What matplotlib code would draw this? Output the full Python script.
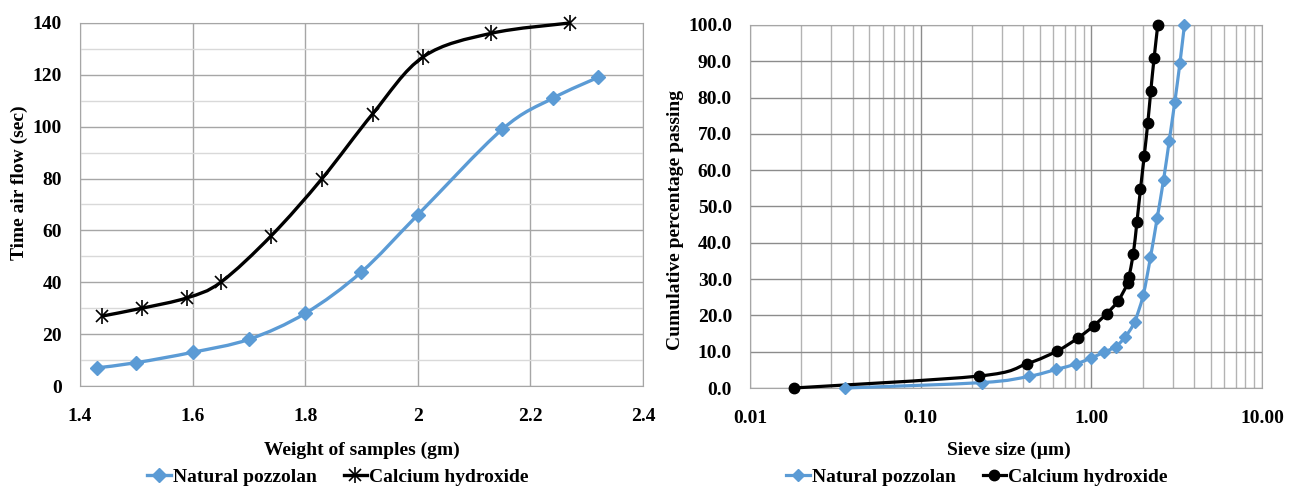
import numpy as np
import matplotlib
matplotlib.use('Agg')
import matplotlib.pyplot as plt
from matplotlib.path import Path
from matplotlib.patches import PathPatch
from matplotlib.lines import Line2D
from matplotlib.legend_handler import HandlerTuple
from matplotlib.ticker import MultipleLocator, LogLocator, FuncFormatter

plt.rcParams['font.family'] = ['Liberation Serif', 'DejaVu Serif']
plt.rcParams['font.weight'] = 'bold'

# Left chart: time of air flow vs sample weight
np_weight = [1.43, 1.50, 1.60, 1.70, 1.80, 1.90, 2.00, 2.15, 2.24, 2.32]
np_time = [7, 9, 13, 18, 28, 44, 66, 99, 111, 119]
ch_weight = [1.44, 1.51, 1.59, 1.65, 1.74, 1.83, 1.92, 2.01, 2.13, 2.27]
ch_time = [27, 30, 34, 40, 58, 80, 105, 127, 136, 140]

# Right chart: particle size distribution
np_size = [0.036, 0.23, 0.43, 0.62, 0.81, 1.00, 1.19, 1.39, 1.58, 1.79,
           2.01, 2.22, 2.43, 2.65, 2.86, 3.08, 3.30, 3.51]
np_pass = [0.0, 1.5, 3.2, 5.1, 6.6, 8.3, 9.9, 11.4, 14.1, 18.2,
           25.5, 36.0, 46.8, 57.4, 68.1, 78.7, 89.4, 100.0]
ch_size = [0.018, 0.22, 0.42, 0.63, 0.83, 1.03, 1.23, 1.43, 1.64, 1.66,
           1.76, 1.85, 1.94, 2.04, 2.14, 2.23, 2.33, 2.45]
ch_pass = [0.0, 3.3, 6.7, 10.2, 13.7, 17.1, 20.5, 23.9, 29.0, 30.6,
           36.9, 45.8, 54.8, 63.9, 72.9, 81.9, 90.8, 100.0]

BLUE = '#5B9BD5'
FS = 14


def smooth_path(x, y, logx=False):
    # Excel-style smoothed line: cubic bezier through the points
    xs = np.log10(x) if logx else np.asarray(x, float)
    pts = np.column_stack([xs, np.asarray(y, float)])
    n = len(pts)
    verts = [pts[0]]
    codes = [Path.MOVETO]
    for i in range(n - 1):
        p0 = pts[max(i - 1, 0)]
        p1 = pts[i]
        p2 = pts[i + 1]
        p3 = pts[min(i + 2, n - 1)]
        verts += [p1 + (p2 - p0) / 6, p2 - (p3 - p1) / 6, p2]
        codes += [Path.CURVE4] * 3
    verts = np.array(verts)
    if logx:
        verts[:, 0] = 10 ** verts[:, 0]
    return Path(verts, codes)


fig = plt.figure(figsize=(12.94, 4.88), dpi=100)

# ---------- left chart ----------
ax1 = fig.add_axes([0.0618, 0.2090, 0.4351, 0.7439])
ax1.add_patch(PathPatch(smooth_path(np_weight, np_time), fc='none', ec=BLUE, lw=2.4,
                        zorder=3, clip_on=False))
ax1.plot(np_weight, np_time, ls='none', marker='D', ms=7, color=BLUE, zorder=4, clip_on=False)
ax1.add_patch(PathPatch(smooth_path(ch_weight, ch_time), fc='none', ec='black', lw=2.4,
                        zorder=3, clip_on=False))
ax1.plot(ch_weight, ch_time, ls='none', marker='x', ms=8.5, mew=1.2, color='black',
         zorder=4, clip_on=False)
ax1.plot(ch_weight, ch_time, ls='none', marker='|', ms=12, mew=1.2, color='black',
         zorder=4, clip_on=False)

ax1.set_xlim(1.4, 2.4)
ax1.set_ylim(0, 140)
ax1.xaxis.set_major_locator(MultipleLocator(0.2))
ax1.yaxis.set_major_locator(MultipleLocator(20))
ax1.yaxis.set_minor_locator(MultipleLocator(10))
ax1.xaxis.set_major_formatter(FuncFormatter(lambda v, p: f'{v:g}'))
ax1.grid(True, which='major', color='#a6a6a6', lw=1.0)
ax1.grid(True, which='minor', axis='y', color='#d9d9d9', lw=1.0)
ax1.set_axisbelow(True)
for s in ax1.spines.values():
    s.set_color('#a6a6a6')
ax1.tick_params(which='both', length=0, labelsize=FS)
ax1.tick_params(axis='x', pad=16)
ax1.tick_params(axis='y', pad=13)
ax1.set_xlabel('Weight of samples (gm)', fontsize=FS, fontweight='bold', va='center')
ax1.xaxis.set_label_coords(0.5, -0.176)
ax1.set_ylabel('Time air flow (sec)', fontsize=FS, fontweight='bold', va='center')
ax1.yaxis.set_label_coords(-0.108, 0.559)

h_np1 = Line2D([], [], color=BLUE, lw=2.4, marker='D', ms=7)
h_ch1 = (Line2D([], [], color='black', lw=2.4, marker='x', ms=8.5, mew=1.2),
         Line2D([], [], color='black', lw=0, marker='|', ms=12, mew=1.2))
fig.legend([h_np1, h_ch1], ['Natural pozzolan', 'Calcium hydroxide'],
           handler_map={tuple: HandlerTuple(ndivide=1)},
           loc='center', bbox_to_anchor=(338 / 1294, 11 / 488), ncol=2, frameon=False,
           fontsize=FS, numpoints=1, handlelength=1.2, handletextpad=0.1,
           columnspacing=1.4, borderpad=0)

# ---------- right chart ----------
ax2 = fig.add_axes([0.5796, 0.2049, 0.3957, 0.7439])
ax2.set_xscale('log')
ax2.add_patch(PathPatch(smooth_path(np_size, np_pass, logx=True), fc='none', ec=BLUE, lw=2.3,
                        zorder=3, clip_on=False))
ax2.plot(np_size, np_pass, ls='none', marker='D', ms=6, color=BLUE, zorder=4, clip_on=False)
ax2.add_patch(PathPatch(smooth_path(ch_size, ch_pass, logx=True), fc='none', ec='black', lw=2.3,
                        zorder=3, clip_on=False))
ax2.plot(ch_size, ch_pass, ls='none', marker='o', ms=7.5, color='black', zorder=4, clip_on=False)

ax2.set_xlim(0.01, 10)
ax2.set_ylim(0, 100)
ax2.xaxis.set_major_locator(LogLocator(base=10, numticks=10))
ax2.xaxis.set_minor_locator(LogLocator(base=10, subs=np.arange(2, 10), numticks=10))
ax2.xaxis.set_major_formatter(FuncFormatter(lambda v, p: f'{v:.2f}'))
ax2.xaxis.set_minor_formatter(FuncFormatter(lambda v, p: ''))
ax2.yaxis.set_major_locator(MultipleLocator(10))
ax2.yaxis.set_major_formatter(FuncFormatter(lambda v, p: f'{v:.1f}'))
ax2.grid(True, which='major', color='#8c8c8c', lw=1.0)
ax2.grid(True, which='minor', axis='x', color='#b3b3b3', lw=1.0)
ax2.set_axisbelow(True)
for s in ax2.spines.values():
    s.set_color('#a6a6a6')
ax2.tick_params(which='both', length=0, labelsize=FS)
ax2.tick_params(axis='x', pad=16)
ax2.tick_params(axis='y', pad=13)
ax2.set_xlabel('Sieve size (\u00b5m)', fontsize=FS, fontweight='bold', va='center')
ax2.xaxis.set_label_coords(0.506, -0.171)
ax2.set_ylabel('Cumulative percentage passing', fontsize=FS, fontweight='bold', va='center')
ax2.yaxis.set_label_coords(-0.146, 0.463)

h_np2 = Line2D([], [], color=BLUE, lw=2.3, marker='D', ms=6)
h_ch2 = Line2D([], [], color='black', lw=2.3, marker='o', ms=7.5)
fig.legend([h_np2, h_ch2], ['Natural pozzolan', 'Calcium hydroxide'],
           loc='center', bbox_to_anchor=(977 / 1294, 11 / 488), ncol=2, frameon=False,
           fontsize=FS, numpoints=1, handlelength=1.2, handletextpad=0.1,
           columnspacing=1.4, borderpad=0)

fig.savefig('out.png', dpi=100)
